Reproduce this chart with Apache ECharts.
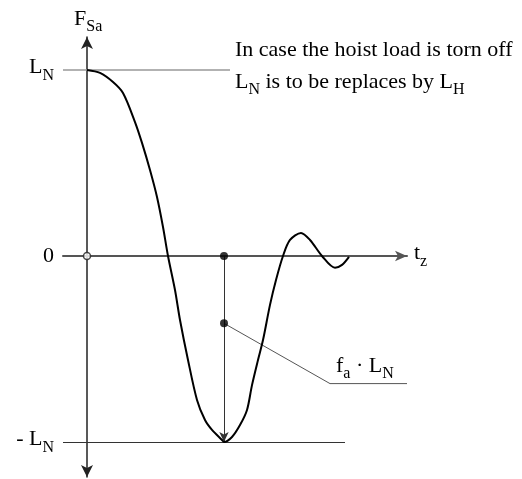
<!DOCTYPE html>
<html>
<head>
<meta charset="utf-8">
<script src="https://cdn.jsdelivr.net/npm/echarts@6/dist/echarts.min.js"></script>
<style>
  html, body { margin: 0; padding: 0; background: #fff; }
  #chart { width: 522px; height: 479px; }
</style>
</head>
<body>
<div id="chart"></div>
<script>
// time in steps of the plot (arbitrary units), force as fraction of L_N
const curveT = [0, 1.3, 2.6, 3.6, 4.8, 5.5, 6.3, 7.0, 7.6, 8.1, 8.8, 9.3, 10.1, 11.0, 11.8, 12.5, 13.5, 13.7,
    14.5, 15.3, 16.0, 16.5, 17.1, 17.6, 18.3, 18.9, 19.6, 20.3, 21.4, 22.3, 23.5, 24.8, 25.5, 26.2];
const curveF = [1.0, 0.984, 0.935, 0.876, 0.72, 0.608, 0.462, 0.317, 0.156, 0, -0.183, -0.344, -0.559, -0.774, -0.882, -0.935, -0.989, -1.0,
    -0.973, -0.909, -0.828, -0.694, -0.559, -0.452, -0.263, -0.129, 0, 0.086, 0.124, 0.086, 0, -0.063, -0.048, -0.005];

const yTicks = [-1, 0, 1];
const yTickLabels = ['{m|- L}{s|N}', '{c|0}', '{m|L}{s|N}'];

const tMin = 13.7;          // time of the minimum
const faValue = -0.362;     // f_a * L_N point
const leaderT = [13.7, 24.3, 32];
const leaderF = [faValue, -0.686, -0.686];
const refLineEndTop = 14.3;
const refLineEndBottom = 25.8;

const serif = '"Liberation Serif", "DejaVu Serif", serif';
const rich = {
    m: { fontFamily: serif, fontSize: 22, fontWeight: 'normal', color: '#000', lineHeight: 27, verticalAlign: 'top' },
    c: { fontFamily: serif, fontSize: 22, fontWeight: 'normal', color: '#000', lineHeight: 22 },
    s: { fontFamily: serif, fontSize: 16, fontWeight: 'normal', color: '#000', lineHeight: 16, verticalAlign: 'bottom' },
    g: { lineHeight: 5 }
};

const chart = echarts.init(document.getElementById('chart'));

const option = {
    animation: false,
    backgroundColor: '#fff',
    title: {
        left: 235,
        top: 39,
        padding: 0,
        text: '{m|In case the hoist load is torn off}\n{g|}\n{m|L}{s|N}{m| is to be replaces by L}{s|H}',
        textStyle: { fontWeight: 'normal', rich: rich }
    },
    grid: { left: 63, right: 115, top: 37, bottom: 2, outerBoundsMode: 'none' },
    xAxis: {
        type: 'value',
        min: -2.4,
        max: 32,
        axisLine: {
            onZero: true,
            symbol: ['none', 'arrow'],
            symbolSize: [8, 12],
            lineStyle: { color: '#555', width: 2 }
        },
        axisTick: { show: false },
        axisLabel: { show: false },
        splitLine: { show: false },
        name: '{m|t}{s|z}',
        nameLocation: 'end',
        nameGap: 7,
        nameTextStyle: { rich: rich }
    },
    yAxis: {
        type: 'value',
        min: -1.188,
        max: 1.177,
        axisLine: {
            onZero: true,
            symbol: ['arrow', 'arrow'],
            symbolSize: [9, 12],
            lineStyle: { color: '#222', width: 1.5 }
        },
        axisTick: { show: false },
        splitLine: { show: false },
        axisLabel: {
            customValues: yTicks,
            margin: 9,
            formatter: v => yTickLabels[yTicks.indexOf(v)],
            rich: rich
        },
        name: '{m|F}{s|Sa}',
        nameLocation: 'end',
        nameGap: 2,
        nameTextStyle: { rich: rich, align: 'left', padding: [0, 0, 0, -13] }
    },
    series: [
        {
            type: 'line',
            data: curveT.map((t, i) => [t, curveF[i]]),
            smooth: 0.3,
            symbol: 'none',
            lineStyle: { color: '#000', width: 2 },
            z: 5,
            markLine: {
                silent: true,
                symbol: 'none',
                label: { show: false },
                data: [
                    [{ coord: [-2.4, 1], lineStyle: { color: '#999', width: 1.5, type: 'solid' } }, { coord: [refLineEndTop, 1] }],
                    [{ coord: [-2.4, -1], lineStyle: { color: '#333', width: 1, type: 'solid' } }, { coord: [refLineEndBottom, -1] }],
                    [{ coord: [tMin, 0], symbol: 'none', lineStyle: { color: '#333', width: 1, type: 'solid' } },
                     { coord: [tMin, -1], symbol: 'arrow', symbolSize: [7, 10] }]
                ]
            }
        },
        {
            type: 'line',
            data: leaderT.map((t, i) => ({
                value: [t, leaderF[i]],
                label: i === 1 ? {
                    show: true,
                    position: 'right',
                    distance: 6,
                    offset: [0, -15],
                    formatter: '{m|f}{s|a}{m| · L}{s|N}',
                    rich: rich
                } : { show: false }
            })),
            symbol: 'circle',
            symbolSize: 0,
            showSymbol: true,
            lineStyle: { color: '#555', width: 1 },
            z: 3
        },
        {
            type: 'scatter',
            data: [[tMin, 0], [tMin, faValue]],
            symbolSize: 8,
            itemStyle: { color: '#000' },
            z: 6
        },
        {
            type: 'scatter',
            data: [[0, 0]],
            symbolSize: 7,
            itemStyle: { color: '#fff', borderColor: '#222', borderWidth: 1.5 },
            z: 6
        }
    ]
};

chart.setOption(option);
</script>
</body>
</html>
